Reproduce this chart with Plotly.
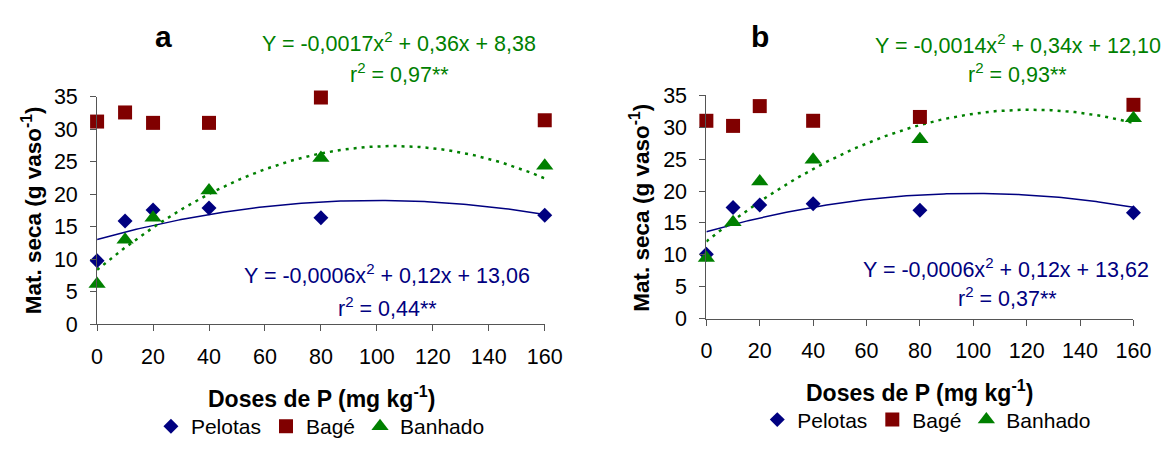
import numpy as np
import plotly.graph_objects as go

FONT = "Liberation Sans, Arial, sans-serif"
NAVY = "#000080"
DARKRED = "#800000"
GREEN = "#008000"
AXIS = "#555555"

doses = [0, 10, 20, 40, 80, 160]
tick_vals = [0, 20, 40, 60, 80, 100, 120, 140, 160]

# Panel a: dry matter (g per pot)
pelotas_a = [9.8, 15.9, 17.6, 17.9, 16.4, 16.8]
bage_a = [31.2, 32.6, 31.0, 31.0, 34.9, 31.4]
banhado_a = [6.2, 13.0, 16.4, 20.6, 25.6, 24.4]

# Panel b: dry matter (g per pot)
pelotas_b = [10.1, 17.4, 17.8, 18.0, 17.0, 16.6]
bage_b = [31.0, 30.2, 33.3, 31.0, 31.6, 33.5]
banhado_b = [9.5, 15.1, 21.5, 24.9, 28.1, 31.4]

# Quadratic regression coefficients (a, b, c) for Y = a*x^2 + b*x + c
fit_pelotas_a = (-0.0006, 0.12, 13.06)
fit_banhado_a = (-0.0017, 0.36, 8.38)
fit_pelotas_b = (-0.0006, 0.12, 13.62)
fit_banhado_b = (-0.0014, 0.34, 12.10)

eq_banhado_a = ["Y = -0,0017x<sup>2</sup> + 0,36x + 8,38", "r<sup>2</sup> = 0,97**"]
eq_pelotas_a = ["Y = -0,0006x<sup>2</sup> + 0,12x + 13,06", "r<sup>2</sup> = 0,44**"]
eq_banhado_b = ["Y = -0,0014x<sup>2</sup> + 0,34x + 12,10", "r<sup>2</sup> = 0,93**"]
eq_pelotas_b = ["Y = -0,0006x<sup>2</sup> + 0,12x + 13,62", "r<sup>2</sup> = 0,37**"]

xs = np.linspace(0, 160, 161)


def quad(coefs):
    a, b, c = coefs
    return a * xs ** 2 + b * xs + c


fig = go.Figure()


def add_panel(xref, yref, legend, pel, bag, ban, fit_pel, fit_ban):
    fig.add_trace(go.Scatter(x=xs, y=quad(fit_pel), mode="lines",
                             line=dict(color=NAVY, width=1.5),
                             xaxis=xref, yaxis=yref, showlegend=False,
                             hoverinfo="skip"))
    fig.add_trace(go.Scatter(x=xs, y=quad(fit_ban), mode="lines",
                             line=dict(color=GREEN, width=2.5, dash="3px,5px"),
                             xaxis=xref, yaxis=yref, showlegend=False,
                             hoverinfo="skip"))
    fig.add_trace(go.Scatter(x=doses, y=pel, mode="markers", name="Pelotas",
                             marker=dict(symbol="diamond", size=11.5, color=NAVY),
                             xaxis=xref, yaxis=yref, legend=legend,
                             cliponaxis=False))
    fig.add_trace(go.Scatter(x=doses, y=bag, mode="markers", name="Bagé",
                             marker=dict(symbol="square", size=14, color=DARKRED),
                             xaxis=xref, yaxis=yref, legend=legend,
                             cliponaxis=False))
    fig.add_trace(go.Scatter(x=doses, y=ban, mode="markers", name="Banhado",
                             marker=dict(symbol="triangle-up", size=15, color=GREEN),
                             xaxis=xref, yaxis=yref, legend=legend,
                             cliponaxis=False))


add_panel("x", "y", "legend", pelotas_a, bage_a, banhado_a, fit_pelotas_a, fit_banhado_a)
add_panel("x2", "y2", "legend2", pelotas_b, bage_b, banhado_b, fit_pelotas_b, fit_banhado_b)

W, H = 1173, 450

xaxis_style = dict(range=[0, 160], tickvals=tick_vals, ticks="outside", ticklen=6,
                   tickcolor=AXIS, showline=True, linecolor=AXIS, linewidth=1,
                   showgrid=False, zeroline=False, ticklabelstandoff=7,
                   tickfont=dict(family=FONT, size=21.5, color="black"))
yaxis_style = dict(range=[0, 35], tickvals=[0, 5, 10, 15, 20, 25, 30, 35], ticks="outside",
                   ticklen=6, tickcolor=AXIS, showline=True, linecolor=AXIS, linewidth=1,
                   showgrid=False, zeroline=False, ticklabelstandoff=8,
                   tickfont=dict(family=FONT, size=21.5, color="black"))

fig.update_layout(
    width=W, height=H,
    margin=dict(l=0, r=0, t=0, b=0),
    paper_bgcolor="white", plot_bgcolor="white",
    font=dict(family=FONT, size=21, color="black"),
    xaxis=dict(domain=[93 / W, 550 / W], anchor="y", **xaxis_style),
    yaxis=dict(domain=[1 - 331 / H, 1 - 90.7 / H], anchor="x", **yaxis_style),
    xaxis2=dict(domain=[715 / W, 1151 / W], anchor="y2", **xaxis_style),
    yaxis2=dict(domain=[1 - 325 / H, 1 - 89 / H], anchor="x2", **yaxis_style),
    legend=dict(orientation="h", x=321 / W, xanchor="center", y=1 - 439 / H,
                yanchor="middle", font=dict(family=FONT, size=21),
                bgcolor="rgba(0,0,0,0)", itemwidth=30, tracegroupgap=0),
    legend2=dict(orientation="h", x=940 / W, xanchor="center", y=1 - 432 / H,
                 yanchor="middle", font=dict(family=FONT, size=21),
                 bgcolor="rgba(0,0,0,0)", itemwidth=30, tracegroupgap=0),
)


def note(text, x, y, color="black", size=21.5, bold=False, angle=0):
    if bold:
        text = "<b>" + text + "</b>"
    fig.add_annotation(text=text, x=x / W, y=1 - y / H, xref="paper", yref="paper",
                       xanchor="center", yanchor="middle", showarrow=False,
                       textangle=angle, font=dict(family=FONT, size=size, color=color))


# Panel letters
note("a", 161, 27, size=30, bold=True)
note("b", 770, 27, size=30, bold=True)

# Regression equations
note(eq_banhado_a[0], 401, 33, GREEN)
note(eq_banhado_a[1], 402, 66, GREEN)
note(eq_pelotas_a[0], 389, 278, NAVY)
note(eq_pelotas_a[1], 389, 313, NAVY)
note(eq_banhado_b[0], 1033, 35, GREEN)
note(eq_banhado_b[1], 1033, 65, GREEN)
note(eq_pelotas_b[0], 1021, 271, NAVY)
note(eq_pelotas_b[1], 1022, 302, NAVY)

# Axis titles
ytitle = "Mat. seca (g vaso<sup>-1</sup>)"
xtitle = "Doses de P (mg kg<sup>-1</sup>)"
note(ytitle, 26, 210, size=22.5, bold=True, angle=-90)
note(ytitle, 647, 208, size=22.5, bold=True, angle=-90)
note(xtitle, 322, 408, size=23, bold=True)
note(xtitle, 933, 401, size=23, bold=True)

fig.write_html("out.html")
